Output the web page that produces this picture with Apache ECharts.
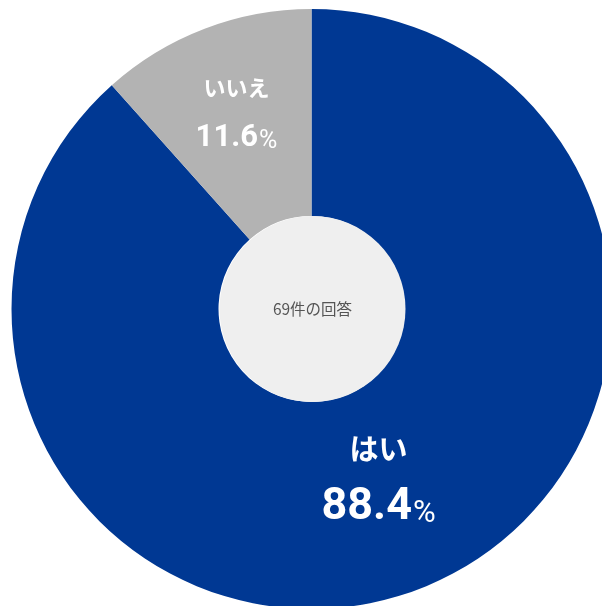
<!DOCTYPE html>
<html>
<head>
<meta charset="utf-8">
<script src="https://cdn.jsdelivr.net/npm/echarts@6/dist/echarts.min.js"></script>
<style>
html,body{margin:0;padding:0;background:#fff;}
#chart{width:602px;height:606px;}
</style>
</head>
<body>
<div id="chart"></div>
<script>
var categories = ['はい', 'いいえ'];
var counts = [61, 8];
var sliceColors = ['#003893', '#b3b3b3'];
var centerText = '69件の回答';

var labelSizes = [
  { n: 29, v: 45, p: 31, nl: 50, vl: 66, pb: 11, pad: [0, 0, 6, 0] },
  { n: 22, v: 31, p: 25, nl: 42, vl: 60, pb: 14, pad: [10, 0, 0, 0] }
];

var chart = echarts.init(document.getElementById('chart'), null, { renderer: 'canvas' });

var pieData = categories.map(function (c, i) {
  var s = labelSizes[i];
  return {
    name: c,
    value: counts[i],
    itemStyle: { color: sliceColors[i] },
    label: {
      padding: s.pad,
      rich: {
        n: { fontSize: s.n, lineHeight: s.nl, fontWeight: 'bold', color: '#fff', fontFamily: '"Noto Sans CJK JP"' },
        v: { fontSize: s.v, lineHeight: s.vl, fontWeight: 'bold', color: '#fff', fontFamily: 'Roboto, "Noto Sans CJK JP"' },
        p: { fontSize: s.p, lineHeight: s.vl, fontWeight: 'normal', color: '#fff', fontFamily: 'Roboto, "Noto Sans CJK JP"', verticalAlign: 'bottom', padding: [0, 0, s.pb, 1] }
      }
    }
  };
});

var total = counts.reduce(function (a, b) { return a + b; }, 0);

chart.setOption({
  animation: false,
  series: [
    {
      type: 'pie',
      center: [311.5, 309],
      radius: [93, 300],
      startAngle: 90,
      clockwise: true,
      percentPrecision: 1,
      silent: true,
      itemStyle: { borderWidth: 0 },
      label: {
        show: true,
        position: 'inside',
        formatter: '{n|{b}}\n{v|{d}}{p|%}'
      },
      labelLayout: { dx: -4, dy: -10 },
      labelLine: { show: false },
      data: pieData
    },
    {
      type: 'pie',
      center: [312.5, 309],
      radius: [0, 93],
      silent: true,
      label: {
        show: true,
        position: 'center',
        formatter: centerText,
        fontSize: 15.5,
        color: '#555',
        fontFamily: '"Noto Sans CJK JP"'
      },
      labelLine: { show: false },
      itemStyle: { color: '#efefef' },
      data: [{ name: centerText, value: total }]
    }
  ]
});
</script>
</body>
</html>
